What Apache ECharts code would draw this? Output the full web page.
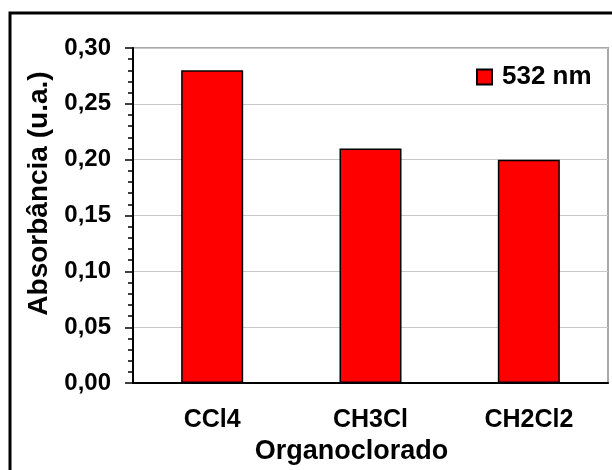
<!DOCTYPE html>
<html>
<head>
<meta charset="utf-8">
<script src="https://cdn.jsdelivr.net/npm/echarts@6/dist/echarts.min.js"></script>
<style>
  html, body { margin: 0; padding: 0; background: #fff; }
  #chart { width: 612px; height: 470px; }
</style>
</head>
<body>
<div id="chart"></div>
<script>
const categories = ['CCl4', 'CH3Cl', 'CH2Cl2']
const absorbance532 = [0.28, 0.21, 0.20]
const seriesName = '532 nm'
const yTitle = 'Absorbância (u.a.)'
const xTitle = 'Organoclorado'

const font = "'Liberation Sans', Arial, sans-serif"
const fmt = (v) => v.toFixed(2).replace('.', ',')

const chart = echarts.init(document.getElementById('chart'))

// extra category axes just to draw the crossing ticks and the small centre ticks
const tickAxis = (extra) => Object.assign({
  type: 'category',
  data: categories,
  position: 'bottom',
  axisLine: { show: false },
  axisLabel: { show: false },
  splitLine: { show: false }
}, extra)

chart.setOption({
  animation: false,
  backgroundColor: '#fff',
  graphic: [{
    type: 'rect',
    shape: { x: 10, y: 13, width: 700, height: 600 },
    style: { fill: 'none', stroke: '#000', lineWidth: 3 },
    z: 100
  }],
  grid: {
    left: 133, right: 4, top: 48, bottom: 86,
    show: true, borderColor: '#a8a8a8', borderWidth: 2
  },
  legend: {
    left: 476, top: 64, padding: 0,
    icon: 'rect', itemWidth: 15, itemHeight: 15,
    data: [seriesName],
    textStyle: { fontFamily: font, fontWeight: 'bold', fontSize: 26, color: '#000', padding: [0, 0, 0, 5] }
  },
  xAxis: [{
    type: 'category',
    data: categories,
    name: xTitle,
    nameLocation: 'middle',
    nameGap: 46,
    nameTextStyle: { fontFamily: font, fontWeight: 'bold', fontSize: 27, color: '#000', padding: [0, 38, 0, 0] },
    axisLine: { lineStyle: { color: '#000', width: 2 } },
    axisTick: { length: 8, lineStyle: { color: '#000', width: 1.5 } },
    axisLabel: { fontFamily: font, fontWeight: 'bold', fontSize: 25, color: '#000', margin: 25 },
    z: 10
  },
  tickAxis({ axisTick: { inside: true, length: 9, lineStyle: { color: '#000', width: 1.5 } } }),
  tickAxis({ axisTick: { alignWithLabel: true, length: 5, lineStyle: { color: '#000', width: 1.5 } } })
  ],
  yAxis: {
    type: 'value',
    min: 0, max: 0.3, interval: 0.05,
    name: yTitle,
    nameLocation: 'middle',
    nameGap: 77,
    nameTextStyle: { fontFamily: font, fontWeight: 'bold', fontSize: 28, color: '#000', padding: [0, 0, 0, 44] },
    axisLine: { show: true, lineStyle: { color: '#000', width: 2 } },
    axisTick: { show: true, length: 8, lineStyle: { color: '#000', width: 1.5 } },
    minorTick: { show: true, splitNumber: 5, length: 5, lineStyle: { color: '#000', width: 1.5 } },
    splitLine: { lineStyle: { color: '#c8c8c8', width: 1 } },
    axisLabel: { fontFamily: font, fontWeight: 'bold', fontSize: 24, color: '#000', margin: 22, formatter: fmt }
  },
  series: [{
    name: seriesName,
    type: 'bar',
    data: absorbance532,
    barWidth: 62,
    itemStyle: { color: '#ff0000', borderColor: '#000', borderWidth: 1.5 }
  }]
})
</script>
</body>
</html>
